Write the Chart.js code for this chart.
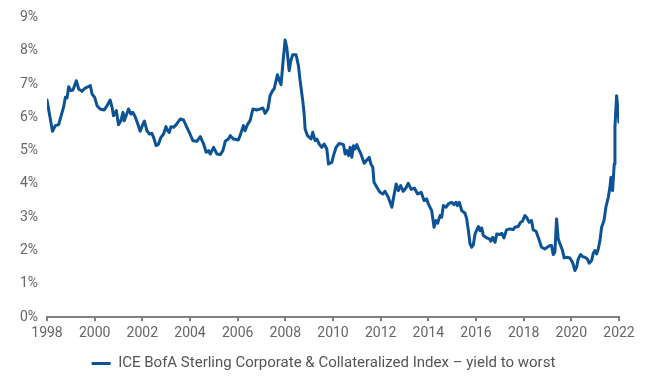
<!DOCTYPE html>
<html>
<head>
<meta charset="utf-8">
<script src="https://cdn.jsdelivr.net/npm/chart.js@4"></script>
<style>
html,body{margin:0;padding:0;background:#fff;}
#wrap{width:650px;height:381px;position:relative;}
</style>
</head>
<body>
<div id="wrap"><canvas id="c" width="650" height="381"></canvas></div>
<script>
const seriesLabel = "ICE BofA Sterling Corporate & Collateralized Index \u2013 yield to worst";
const yTickValues = [0,1,2,3,4,5,6,7,8,9];
const xTickYears = [1998,2000,2002,2004,2006,2008,2010,2012,2014,2016,2018,2020,2022];

const dates = [
1998.00,1998.23,1998.35,1998.49,1998.70,1998.77,1998.84,1998.91,1999.00,1999.09,1999.23,1999.33,1999.47,1999.60,1999.74,1999.82,1999.89,
2000.00,2000.10,2000.23,2000.40,2000.52,2000.65,2000.73,2000.79,2000.91,2001.00,2001.10,2001.19,2001.24,2001.32,2001.42,2001.52,2001.60,2001.70,2001.80,2001.91,
2002.00,2002.09,2002.19,2002.30,2002.40,2002.47,2002.58,2002.68,2002.78,2002.89,2002.99,2003.06,2003.13,2003.20,2003.31,2003.42,2003.59,2003.73,2003.87,
2004.00,2004.12,2004.29,2004.43,2004.57,2004.68,2004.78,2004.85,2004.99,2005.13,2005.27,2005.38,2005.48,2005.61,2005.69,2005.82,
2006.03,2006.10,2006.24,2006.31,2006.41,2006.52,2006.64,2006.80,2006.94,2007.06,2007.15,2007.27,2007.36,2007.48,2007.53,2007.67,2007.75,2007.82,2007.92,2007.99,
2008.06,2008.16,2008.23,2008.31,2008.45,2008.55,2008.62,2008.73,2008.79,2008.83,2008.93,2009.08,2009.15,2009.25,2009.32,2009.42,2009.53,2009.63,2009.74,2009.81,2009.95,
2010.02,2010.13,2010.27,2010.44,2010.51,2010.58,2010.65,2010.72,2010.79,2010.86,2010.93,2011.00,2011.07,2011.17,2011.31,2011.42,2011.52,2011.59,2011.67,2011.72,2011.84,2011.97,
2012.09,2012.18,2012.32,2012.47,2012.53,2012.65,2012.74,2012.84,2012.95,2013.06,2013.16,2013.28,2013.42,2013.55,2013.70,2013.82,2013.93,
2014.00,2014.14,2014.24,2014.32,2014.39,2014.49,2014.56,2014.63,2014.74,2014.84,2014.98,2015.08,2015.16,2015.22,2015.30,2015.40,2015.54,2015.61,2015.68,2015.75,2015.82,2015.89,2015.96,
2016.10,2016.17,2016.24,2016.31,2016.45,2016.56,2016.62,2016.70,2016.80,2016.87,2017.01,2017.08,2017.17,2017.28,2017.42,2017.56,2017.63,2017.77,2017.87,2017.95,
2018.05,2018.12,2018.23,2018.33,2018.40,2018.52,2018.61,2018.75,2018.89,2018.99,2019.10,2019.17,2019.24,2019.31,2019.38,2019.45,2019.55,2019.63,2019.70,2019.80,2019.94,
2020.05,2020.15,2020.22,2020.29,2020.39,2020.47,2020.57,2020.67,2020.75,2020.85,2020.92,2020.99,2021.06,2021.13,2021.20,2021.27,2021.37,2021.45,2021.55,2021.62,2021.66,2021.73,2021.80,2021.83,2021.90,2021.97,2022.00
];

const yields = [
6.52,5.58,5.75,5.78,6.32,6.60,6.58,6.92,6.80,6.82,7.10,6.85,6.78,6.88,6.92,6.95,6.70,
6.60,6.35,6.25,6.22,6.35,6.52,6.30,6.05,6.20,5.78,5.90,6.15,5.90,6.05,6.25,6.10,6.15,6.02,5.82,5.58,
5.75,5.89,5.60,5.50,5.52,5.40,5.15,5.20,5.40,5.50,5.72,5.60,5.55,5.72,5.70,5.78,5.95,5.92,5.70,
5.50,5.30,5.28,5.42,5.20,4.95,5.00,4.90,5.10,4.90,4.88,5.00,5.28,5.35,5.45,5.35,
5.32,5.45,5.75,5.60,5.78,5.90,6.25,6.22,6.25,6.28,6.12,6.25,6.65,6.82,6.85,7.28,7.10,6.98,7.80,8.32,
8.10,7.40,7.70,7.88,7.88,7.55,7.10,6.50,6.10,5.65,5.45,5.35,5.55,5.30,5.35,5.20,5.10,5.20,5.05,4.60,4.65,
4.85,5.10,5.22,5.18,4.90,5.00,4.85,5.10,4.80,5.15,5.05,5.18,5.05,4.90,4.62,4.72,4.80,4.60,4.50,4.05,3.90,3.75,
3.70,3.78,3.60,3.30,3.55,4.00,3.80,3.95,3.78,3.88,4.02,3.84,3.87,3.70,3.75,3.50,3.55,
3.40,3.20,2.70,2.90,2.82,3.05,3.00,3.35,3.30,3.40,3.45,3.38,3.45,3.35,3.45,3.20,3.12,2.95,2.60,2.20,2.10,2.18,2.50,
2.72,2.60,2.68,2.45,2.38,2.35,2.28,2.40,2.25,2.50,2.48,2.52,2.38,2.62,2.65,2.63,2.70,2.72,2.85,2.88,
3.05,3.00,2.85,2.90,2.62,2.58,2.40,2.10,2.05,2.10,2.15,2.15,1.88,1.95,2.95,2.35,2.15,2.00,1.78,1.80,1.78,
1.65,1.40,1.50,1.75,1.88,1.82,1.80,1.75,1.62,1.70,1.92,2.00,1.90,2.05,2.30,2.70,2.90,3.30,3.60,3.90,4.20,3.80,4.60,5.70,6.65,6.10,5.85
];

const points = dates.map((d, i) => ({x: d, y: yields[i]}));
const lineColor = '#0b5394';
const textColor = '#666666';
const axisColor = '#808080';
const fontFamily = 'Roboto, "Liberation Sans", sans-serif';

const legendShift = {
  id: 'legendShift',
  afterLayout(chart) {
    const lg = chart.legend;
    if (lg) { lg.left += 14; lg.right += 14; }
  }
};

new Chart(document.getElementById('c'), {
  type: 'line',
  data: {
    datasets: [{
      label: seriesLabel,
      data: points,
      borderColor: lineColor,
      backgroundColor: lineColor,
      borderWidth: 3,
      borderJoinStyle: 'round',
      borderCapStyle: 'round',
      pointRadius: 0,
      tension: 0,
      fill: false
    }]
  },
  plugins: [legendShift],
  options: {
    responsive: false,
    animation: false,
    events: [],
    layout: { padding: { top: 17, right: 31, left: 0, bottom: 0 } },
    scales: {
      x: {
        type: 'linear',
        min: 1998, max: 2022,
        afterBuildTicks: (s) => { s.ticks = xTickYears.map(v => ({value: v})); },
        ticks: {
          color: textColor,
          font: { family: fontFamily, size: 14 },
          padding: 4,
          maxRotation: 0,
          autoSkip: false,
          callback: (v) => String(v)
        },
        grid: { display: true, drawOnChartArea: false, drawTicks: true, tickLength: 4, color: axisColor, lineWidth: 2 },
        border: { display: true, color: axisColor, width: 2 }
      },
      y: {
        min: 0, max: 9,
        afterBuildTicks: (s) => { s.ticks = yTickValues.map(v => ({value: v})); },
        afterFit: (s) => { s.width = 47; },
        ticks: {
          color: textColor,
          font: { family: fontFamily, size: 14 },
          padding: 9,
          callback: (v) => v + '%'
        },
        grid: { display: false, drawTicks: false },
        border: { display: false }
      }
    },
    plugins: {
      tooltip: { enabled: false },
      legend: {
        display: true,
        position: 'bottom',
        labels: {
          color: '#555555',
          font: { family: fontFamily, size: 15 },
          boxWidth: 19,
          boxHeight: 3,
          padding: 10,
          generateLabels: (chart) => Chart.defaults.plugins.legend.labels.generateLabels(chart)
            .map(l => Object.assign({}, l, { lineWidth: 0, strokeStyle: 'rgba(0,0,0,0)' }))
        }
      }
    }
  }
});
</script>
</body>
</html>
